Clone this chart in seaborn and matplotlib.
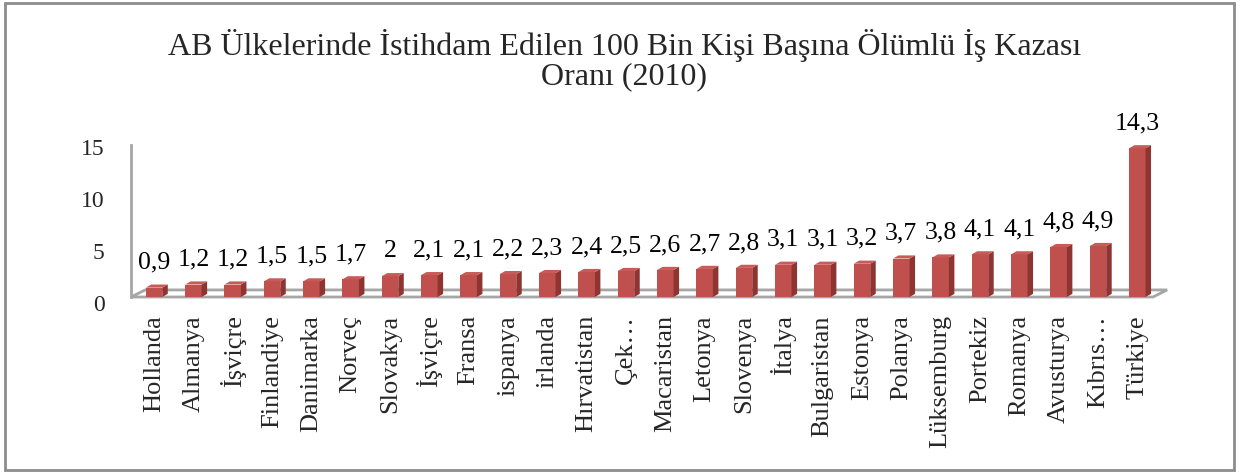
import numpy as np
import pandas as pd
import matplotlib
matplotlib.use("Agg")
import matplotlib.pyplot as plt
from matplotlib.patches import Polygon, Rectangle
from matplotlib.transforms import ScaledTranslation
import seaborn as sns

countries = ["Hollanda", "Almanya", "İşviçre", "Finlandiye", "Danimarka", "Norveç",
             "Slovakya", "İşviçre", "Fransa", "ispanya", "irlanda", "Hırvatistan",
             "Çek…", "Macaristan", "Letonya", "Slovenya", "İtalya", "Bulgaristan",
             "Estonya", "Polanya", "Lüksemburg", "Portekiz", "Romanya", "Avusturya",
             "Kıbrıs…", "Türkiye"]
rates = [0.9, 1.2, 1.2, 1.5, 1.5, 1.7, 2, 2.1, 2.1, 2.2, 2.3, 2.4, 2.5, 2.6, 2.7,
         2.8, 3.1, 3.1, 3.2, 3.7, 3.8, 4.1, 4.1, 4.8, 4.9, 14.3]
rate_labels = [f"{v:g}".replace(".", ",") for v in rates]
y_ticks = [0, 5, 10, 15]
title_lines = ["AB Ülkelerinde İstihdam Edilen 100 Bin Kişi Başına Ölümlü İş Kazası",
               "Oranı (2010)"]

sns.set_theme(style="white")
plt.rcParams["font.family"] = ["Liberation Serif", "DejaVu Serif"]

W, H = 1241, 472
fig = plt.figure(figsize=(W / 100, H / 100), dpi=100)
ax = fig.add_axes([131 / W, (H - 297) / H, (1153 - 131) / W, 156 / H])

df = pd.DataFrame({"pos": np.arange(len(rates)), "rate": rates})
front = "#C0504D"
side = "#8E3431"
top = "#C85A57"
sns.barplot(data=df, x="pos", y="rate", color=front, width=0.42, ax=ax,
            saturation=1, edgecolor="none", zorder=3)

ax.set_xlim(-0.585, 25.4)
ax.set_ylim(0, 15)

# pseudo 3D depth (data units)
dx, dy = 0.14, 0.3
for p in ax.patches:
    x0, w, h = p.get_x(), p.get_width(), p.get_height()
    x1 = x0 + w
    ax.add_patch(Polygon([(x1, 0), (x1 + dx, dy), (x1 + dx, h + dy), (x1, h)],
                         closed=True, facecolor=side, edgecolor="none", zorder=3))
    ax.add_patch(Polygon([(x0, h), (x1, h), (x1 + dx, h + dy), (x0 + dx, h + dy)],
                         closed=True, facecolor=top, edgecolor="none", zorder=3))

# floor
fx0, fx1 = ax.get_xlim()
fdx, fdy = 0.36, 0.68
ax.add_patch(Polygon([(fx0, 0), (fx1, 0), (fx1 + fdx, fdy), (fx0 + fdx, fdy)],
                     closed=True, facecolor="white", edgecolor="#A6A6A6",
                     linewidth=2, zorder=1, clip_on=False))

# value labels
ax.bar_label(ax.containers[0], labels=rate_labels, padding=10, fontsize=18.5,
             color="black")

for s in ["top", "right", "bottom"]:
    ax.spines[s].set_visible(False)
ax.spines["left"].set_color("#A6A6A6")
ax.spines["left"].set_linewidth(2)
ax.spines["left"].set_bounds(0, 14.6)

ax.set_yticks(y_ticks)
ax.set_yticklabels([str(t) for t in y_ticks], fontsize=17)
ax.tick_params(axis="y", length=0, pad=19)
off = ScaledTranslation(0, -6 / 100, fig.dpi_scale_trans)
for lbl in ax.get_yticklabels():
    lbl.set_transform(lbl.get_transform() + off)

ax.set_xticks(np.arange(len(countries)))
ax.set_xticklabels(countries, rotation=90, fontsize=19, va="top", ha="center")
ax.tick_params(axis="x", length=0, pad=13)
ax.set_xlabel("")
ax.set_ylabel("")
ax.patch.set_visible(False)

fig.text(0.503, 1 - 45 / H, title_lines[0], ha="center", va="center", fontsize=23)
fig.text(0.503, 1 - 77 / H, title_lines[1], ha="center", va="center", fontsize=23)

fig.patches.append(Rectangle((5 / W, 2 / H), 1229 / W, 467 / H, transform=fig.transFigure,
                             fill=False, edgecolor="#8C8C8C", linewidth=2))

fig.savefig("out.png", dpi=100)
